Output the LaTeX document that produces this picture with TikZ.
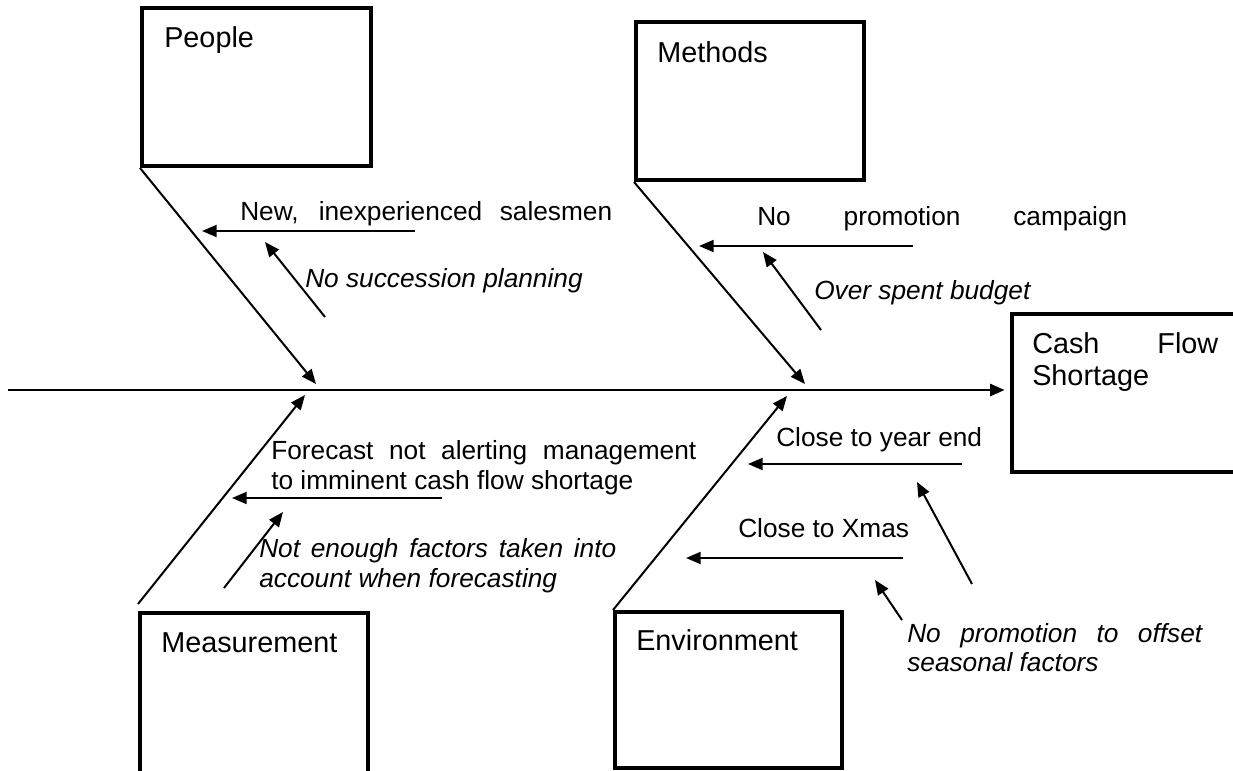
\documentclass[tikz,border=0pt]{standalone}
\usepackage{fontspec}
\setmainfont{Liberation Sans}
\usetikzlibrary{arrows.meta,calc}
\tikzset{
  catbox/.style={draw, line width=3pt, inner sep=0pt},
  bone/.style={line width=1.5pt, -{Triangle[length=11pt,width=9pt]}},
  backbone/.style={line width=2.2pt, -{Triangle[length=11pt,width=9pt]}},
  boxlbl/.style={anchor=base west, inner sep=0pt, font=\fontsize{21.6pt}{24.8pt}\selectfont},
  lbl/.style={anchor=base west, inner sep=0pt, font=\fontsize{19.7pt}{22.6pt}\selectfont},
  ilbl/.style={anchor=base west, inner sep=0pt, font=\fontsize{19.7pt}{22.6pt}\selectfont\itshape},
}
\begin{document}
\begin{tikzpicture}[x=0.75pt,y=-0.75pt]
  \fill[white] (0,0) rectangle (1233,771);
  \clip (0,0) rectangle (1233,771);

  % category boxes and the effect box
  \node[catbox, minimum width=171.75pt, minimum height=118.5pt] (people)  at (256.5,87) {};
  \node[catbox, minimum width=171pt,    minimum height=118.5pt] (methods) at (750,101) {};
  \node[catbox, minimum width=174.75pt, minimum height=118.5pt] (effect)  at (1128.5,393) {};
  \node[catbox, minimum width=171pt,    minimum height=132.75pt] (measure) at (254,701.5) {};
  \node[catbox, minimum width=170.25pt, minimum height=117pt]   (environ) at (728.5,690) {};

  \node[boxlbl] (peopleT)  at (164,47)  {People};
  \node[boxlbl] (methodsT) at (657,62)  {Methods};
  \node[boxlbl] (effectT1) at (1032,353) {\makebox[139.5pt][s]{Cash Flow}};
  \node[boxlbl] (effectT2) at (1032,385) {Shortage};
  \node[boxlbl] (measureT) at (161,652) {Measurement};
  \node[boxlbl] (environT) at (636,650) {Environment};

  % backbone
  \coordinate (head) at (8,390);
  \draw[backbone, shorten >=4pt] (head) -- (head -| effect.west);

  % main bones
  \coordinate (pJoin) at (316,384);
  \coordinate (mJoin) at (805,384);
  \coordinate (msStart) at (138,604);
  \coordinate (msJoin) at (305,395);
  \coordinate (eJoin) at (787,396);
  \draw[bone] (people.south west) -- (pJoin);
  \draw[bone] (methods.south west) -- (mJoin);
  \draw[bone] (msStart) -- (msJoin);
  \draw[bone] (environ.north west) -- (eJoin);

  % cause labels
  \node[lbl]  (c1)  at (240,220) {\makebox[279pt][s]{New, inexperienced salesmen}};
  \node[ilbl] (c1a) at (305,287) {No succession planning};
  \node[lbl]  (c2)  at (757,225) {\makebox[277.5pt][s]{No promotion campaign}};
  \node[ilbl] (c2a) at (814,299) {Over spent budget};
  \node[lbl]  (c3)  at (271,459) {\makebox[318.75pt][s]{Forecast not alerting management}};
  \node[lbl]  (c3b) at (271,489) {to imminent cash flow shortage};
  \node[ilbl] (c3a) at (259,557) {\makebox[267.75pt][s]{Not enough factors taken into}};
  \node[ilbl] (c3c) at (259,587) {account when forecasting};
  \node[lbl]  (c4)  at (776,446) {Close to year end};
  \node[lbl]  (c5)  at (738,537) {Close to Xmas};
  \node[ilbl] (c4a) at (907,642) {\makebox[221.25pt][s]{No promotion to offset}};
  \node[ilbl] (c4b) at (907,671) {seasonal factors};

  % cause arrows
  \coordinate (a1s) at (415,231);  \coordinate (a1e) at (202,231);
  \coordinate (a2s) at (325,317);  \coordinate (a2e) at (265,242);
  \coordinate (a3s) at (913,246);  \coordinate (a3e) at (699,246);
  \coordinate (a4s) at (821,330);  \coordinate (a4e) at (763,252);
  \coordinate (a5s) at (442,498);  \coordinate (a5e) at (232,498);
  \coordinate (a6s) at (224,588);  \coordinate (a6e) at (283,512);
  \coordinate (a7s) at (962,464);  \coordinate (a7e) at (748,464);
  \coordinate (a8s) at (903,558);  \coordinate (a8e) at (686,558);
  \coordinate (a9s) at (972,584);  \coordinate (a9e) at (917,482);
  \coordinate (a10s) at (902,620); \coordinate (a10e) at (875,580);
  \foreach \i in {1,...,10} {
    \draw[bone] (a\i s) -- (a\i e);
  }
\end{tikzpicture}
\end{document}
